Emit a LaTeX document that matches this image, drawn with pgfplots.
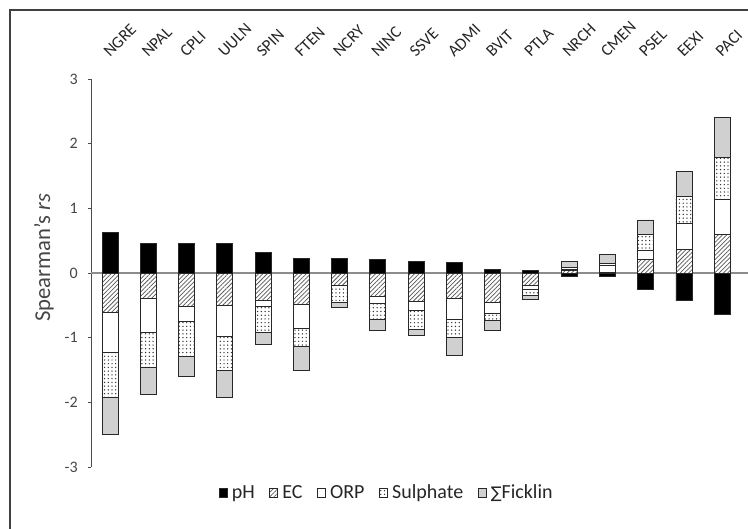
\documentclass[border=0pt]{standalone}
\usepackage{fontspec}
\setmainfont{Carlito}
\newfontfamily\symfont{DejaVu Sans}
\usepackage{pgfplots}
\usepackage{pgfplotstable}
\pgfplotsset{compat=1.18}
\usetikzlibrary{patterns.meta}

\definecolor{ficklin}{RGB}{208,208,208}
\definecolor{edge}{RGB}{40,40,40}
\definecolor{txt}{RGB}{70,70,70}
\definecolor{zline}{RGB}{140,140,140}

% positive parts of each bar
\pgfplotstableread{
x  pH    EC    ORP   Sul   Fic
0  0.62  0     0     0     0
1  0.46  0     0     0     0
2  0.45  0     0     0     0
3  0.45  0     0     0     0
4  0.32  0     0     0     0
5  0.23  0     0     0     0
6  0.22  0     0     0     0
7  0.21  0     0     0     0
8  0.18  0     0     0     0
9  0.17  0     0     0     0
10 0.05  0     0     0     0
11 0.04  0     0     0     0
12 0     0.04  0.02  0.02  0.10
13 0     0.01  0.11  0.03  0.14
14 0     0.21  0.14  0.24  0.23
15 0     0.36  0.41  0.41  0.39
16 0     0.59  0.55  0.64  0.62
}\postab

% negative parts of each bar
\pgfplotstableread{
x  pH     EC     ORP    Sul    Fic
0  0     -0.61  -0.62  -0.69  -0.58
1  0     -0.40  -0.52  -0.54  -0.42
2  0     -0.51  -0.24  -0.54  -0.31
3  0     -0.50  -0.48  -0.53  -0.42
4  0     -0.43  -0.09  -0.40  -0.18
5  0     -0.49  -0.36  -0.28  -0.37
6  0     -0.20   0     -0.26  -0.08
7  0     -0.36  -0.11  -0.25  -0.17
8  0     -0.44  -0.14  -0.29  -0.10
9  0     -0.39  -0.33  -0.28  -0.28
10 0     -0.45  -0.17  -0.11  -0.16
11 0     -0.20  -0.06  -0.09  -0.06
12 -0.05  0      0      0      0
13 -0.06  0      0      0      0
14 -0.26  0      0      0      0
15 -0.43  0      0      0      0
16 -0.64  0      0      0      0
}\negtab

\pgfplotsset{
  common/.style={
    scale only axis, width=493.5pt, height=291pt,
    at={(68.25pt,45.75pt)}, anchor=south west,
    xmin=-0.5, xmax=16.7, ymin=-3, ymax=3,
    ybar stacked, bar width=12pt,
  },
  legimg/.style={legend image code/.code={\draw[##1] (0pt,-3.1pt) rectangle (6pt,3.1pt);}},
  phs/.style={fill=black, draw=edge, line width=0.7pt, legimg},
  ecs/.style={fill=white, draw=edge, line width=0.7pt, legimg,
    postaction={pattern={Lines[angle=45,distance=2.3pt,line width=0.55pt]}, pattern color=black!65}},
  orps/.style={fill=white, draw=edge, line width=0.7pt, legimg},
  suls/.style={fill=white, draw=edge, line width=0.7pt, legimg,
    postaction={pattern={Dots[distance=2.8pt,radius=0.55pt]}, pattern color=black!80}},
  fics/.style={fill=ficklin, draw=edge, line width=0.7pt, legimg},
}

\begin{document}
\begin{tikzpicture}
\useasboundingbox (0,0) rectangle (561pt,396pt);
\draw[line width=1.5pt, black!75] (7.5pt,-30pt) rectangle (640pt,388.5pt);

\begin{axis}[common,
  axis y line*=left, axis x line*=top,
  x axis line style={draw=none},
  y axis line style={draw=black!70, line width=0.7pt},
  ytick={-3,-2,-1,0,1,2,3},
  tick align=outside, major tick length=2.5pt,
  ytick style={draw=black!70, line width=0.7pt},
  xtick={0,...,16}, xtick style={draw=none},
  xticklabels={NGRE,NPAL,CPLI,UULN,SPIN,FTEN,NCRY,NINC,SSVE,ADMI,BVIT,PTLA,NRCH,CMEN,PSEL,EEXI,PACI},
  xticklabel style={rotate=45, anchor=south west, inner sep=0pt, font=\fontsize{12.5}{14}\selectfont, text=black!85},
  xticklabel shift=13pt,
  yticklabel style={font=\fontsize{12}{14}\selectfont, text=txt, xshift=-4pt},
  /pgf/number format/assume math mode=true,
  extra y ticks={0}, extra y tick labels={},
  extra y tick style={grid=major, major grid style={draw=zline, line width=0.8pt}, major tick length=0pt},
  every axis y label/.style={at={(rel axis cs:-0.0714,0.539)}, rotate=90, anchor=center},
  ylabel={Spearman's \textit{rs}},
  ylabel style={font=\fontsize{17}{20}\selectfont, text=txt},
  legend style={at={(rel axis cs:0.451,-0.067)}, anchor=center, legend columns=-1,
    draw=none, fill=none, font=\fontsize{15}{17}\selectfont, text=black!85,
    /tikz/every even column/.append style={column sep=8pt},
    nodes={inner ysep=1.5pt, inner xsep=3pt}},
]
\addplot[phs]  table[x=x,y=pH]  {\postab};
\addplot[ecs]  table[x=x,y=EC]  {\postab};
\addplot[orps] table[x=x,y=ORP] {\postab};
\addplot[suls] table[x=x,y=Sul] {\postab};
\addplot[fics] table[x=x,y=Fic] {\postab};
\legend{pH,EC,ORP,Sulphate,{{\symfont\fontsize{12}{14}\selectfont ∑}Ficklin}}
\end{axis}

\begin{axis}[common, hide axis]
\addplot[phs]  table[x=x,y=pH]  {\negtab};
\addplot[ecs]  table[x=x,y=EC]  {\negtab};
\addplot[orps] table[x=x,y=ORP] {\negtab};
\addplot[suls] table[x=x,y=Sul] {\negtab};
\addplot[fics] table[x=x,y=Fic] {\negtab};
\end{axis}
\end{tikzpicture}
\end{document}
